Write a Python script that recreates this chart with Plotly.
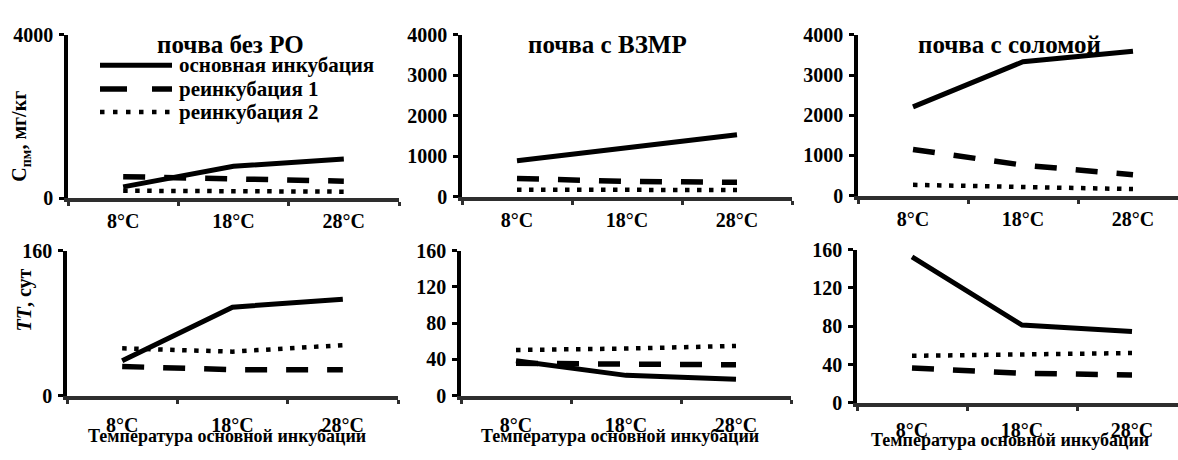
import plotly.graph_objects as go

# Temperatures of the main incubation (categories)
temps = ["8°C", "18°C", "28°C"]

# Series names
series_names = ["основная инкубация", "реинкубация 1", "реинкубация 2"]

# Panel titles
panel_titles = ["почва без РО", "почва с ВЗМР", "почва с соломой"]

# C_пм, мг/кг — soil without plant residues
c_bez_main = [275, 780, 955]
c_bez_r1 = [525, 480, 415]
c_bez_r2 = [180, 170, 158]
# C_пм — soil with ВЗМР
c_vzmr_main = [888, 1215, 1530]
c_vzmr_r1 = [450, 378, 355]
c_vzmr_r2 = [172, 170, 165]
# C_пм — soil with straw
c_sol_main = [2210, 3330, 3590]
c_sol_r1 = [1150, 760, 520]
c_sol_r2 = [270, 210, 165]

# TT, сут — soil without plant residues
tt_bez_main = [38.5, 97.7, 106.4]
tt_bez_r1 = [32.2, 28.7, 28.7]
tt_bez_r2 = [52.2, 48.6, 55.7]
# TT — soil with ВЗМР
tt_vzmr_main = [38.5, 22.4, 18.2]
tt_vzmr_r1 = [35.7, 34.8, 34.0]
tt_vzmr_r2 = [50.4, 52.0, 54.9]
# TT — soil with straw
tt_sol_main = [152.4, 81.2, 74.5]
tt_sol_r1 = [36.5, 30.8, 29.2]
tt_sol_r2 = [49.1, 50.4, 52.0]

W, H = 1178, 460
FONT = "Liberation Serif"


def bold(s):
    return "<b>" + s + "</b>"


line_styles = [
    dict(color="black", width=5, dash="solid"),
    dict(color="black", width=5.5, dash="22px,19px"),
    dict(color="black", width=4.5, dash="4.5px,7.5px"),
]
legend_dash = ["solid", "27px,25px", "4.5px,8.5px"]

panels = [
    (1, [c_bez_main, c_bez_r1, c_bez_r2]),
    (2, [c_vzmr_main, c_vzmr_r1, c_vzmr_r2]),
    (3, [c_sol_main, c_sol_r1, c_sol_r2]),
    (4, [tt_bez_main, tt_bez_r1, tt_bez_r2]),
    (5, [tt_vzmr_main, tt_vzmr_r1, tt_vzmr_r2]),
    (6, [tt_sol_main, tt_sol_r1, tt_sol_r2]),
]

fig = go.Figure()
for idx, group in panels:
    suffix = "" if idx == 1 else str(idx)
    for name, vals, st in zip(series_names, group, line_styles):
        fig.add_trace(go.Scatter(
            x=temps, y=vals, mode="lines", name=name,
            line=st, showlegend=False,
            xaxis="x" + suffix, yaxis="y" + suffix,
            hoverinfo="skip",
        ))

# pixel geometry of the panels: (left, right, top, bottom)
geom = {
    1: (68, 399, 25, 196.5),
    2: (462, 792, 25, 195),
    3: (858, 1188, 25, 194),
    4: (67, 398, 251.7, 404),
    5: (461, 791, 251.7, 404),
    6: (857, 1187, 250.7, 411.5),
}
# gap between the category axis and its labels
label_gap = {1: 2, 2: 2, 3: 2, 4: 8, 5: 8, 6: 6}

tick_font = dict(family=FONT, size=20, color="black")
layout = dict(
    width=W, height=H,
    margin=dict(l=0, r=0, t=0, b=0),
    paper_bgcolor="white", plot_bgcolor="white",
    showlegend=False,
    font=dict(family=FONT, color="black"),
)

for idx, (l, r, t, b) in geom.items():
    suffix = "" if idx == 1 else str(idx)
    right = min(r, W)
    # keep category width fixed even when the axis runs past the page edge
    span = 3.0 * (right - l) / (r - l)
    xr = [-0.5, -0.5 + span]
    top_row = idx <= 3
    if top_row:
        yvals = [0, 4000] if idx == 1 else [0, 1000, 2000, 3000, 4000]
        yr = [0, 4000]
    else:
        yvals = [0, 160] if idx == 4 else [0, 40, 80, 120, 160]
        yr = [0, 160]
    layout["xaxis" + suffix] = dict(
        domain=[l / W, right / W], range=xr, type="category",
        categoryorder="array", categoryarray=temps,
        tickvals=temps, ticktext=[bold(t_) for t_ in temps],
        anchor="y" + suffix, showgrid=False, zeroline=False,
        showline=True, linecolor="#2e2e2e", linewidth=4,
        ticks="outside", tickson="boundaries", ticklen=4, tickwidth=3,
        tickcolor="#2e2e2e", tickfont=tick_font,
        ticklabelstandoff=label_gap[idx],
        fixedrange=True,
    )
    layout["yaxis" + suffix] = dict(
        domain=[1 - b / H, 1 - t / H], range=yr,
        anchor="x" + suffix, showgrid=False, zeroline=False,
        showline=True, linecolor="black", linewidth=3.5,
        ticks="outside", ticklen=5, tickwidth=3, tickcolor="black",
        tickvals=yvals, ticktext=[bold(str(v)) for v in yvals],
        tickfont=tick_font, ticklabelstandoff=2, fixedrange=True,
    )

fig.update_layout(**layout)

ann = []
# panel titles
for title, cx in zip(panel_titles, [230, 607, 1009]):
    ann.append(dict(text=bold(title), x=cx / W, y=1 - 35 / H, xref="paper", yref="paper",
                    xanchor="center", yanchor="middle", showarrow=False,
                    font=dict(family=FONT, size=25, color="black")))
# y-axis titles
ann.append(dict(text=bold("C<sub>пм</sub>, мг/кг"), x=21 / W, y=1 - 132 / H,
                xref="paper", yref="paper", textangle=-90, showarrow=False,
                xanchor="center", yanchor="middle",
                font=dict(family=FONT, size=20, color="black")))
ann.append(dict(text=bold("<i>TT</i>, сут"), x=24 / W, y=1 - 304 / H,
                xref="paper", yref="paper", textangle=-90, showarrow=False,
                xanchor="center", yanchor="middle",
                font=dict(family=FONT, size=20, color="black")))
# x-axis titles
for cx, cy in [(227, 446), (620, 446), (1010, 451)]:
    ann.append(dict(text=bold("Температура основной инкубации"), x=cx / W, y=1 - cy / H,
                    xref="paper", yref="paper", showarrow=False,
                    xanchor="center", yanchor="middle",
                    font=dict(family=FONT, size=18, color="black")))

# legend inside the first panel
shapes = []
for name, st, dash, yy in zip(series_names, line_styles, legend_dash, [57, 82, 106]):
    shapes.append(dict(type="line", xref="paper", yref="paper",
                       x0=100 / W, x1=172 / W, y0=1 - yy / H, y1=1 - yy / H,
                       line=dict(color="black", width=st["width"], dash=dash)))
    ann.append(dict(text=bold(name), x=177 / W, y=1 - yy / H, xref="paper", yref="paper",
                    xanchor="left", yanchor="middle", showarrow=False,
                    font=dict(family=FONT, size=21, color="black")))

fig.update_layout(annotations=ann, shapes=shapes)
fig.write_html("out.html")
